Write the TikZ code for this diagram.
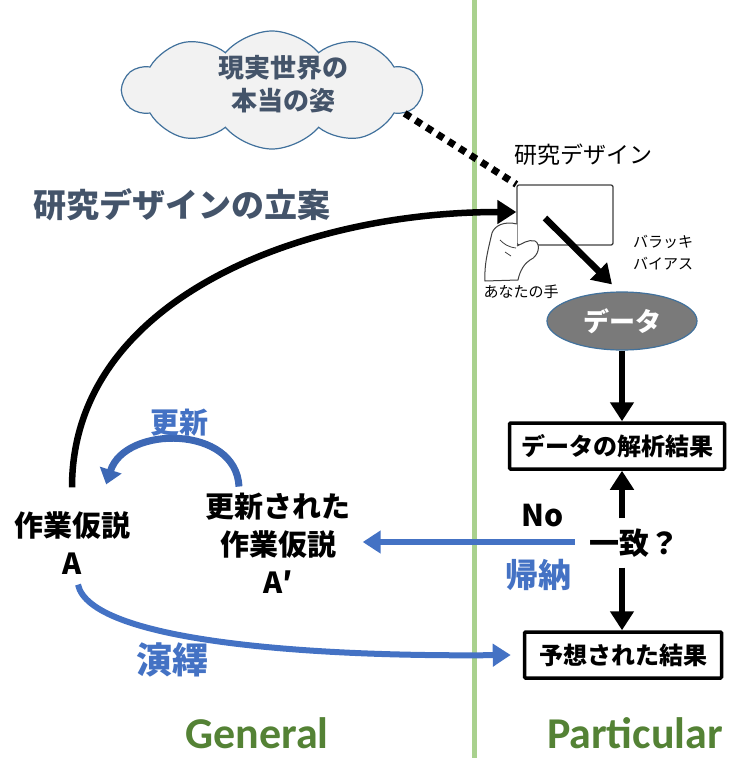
\documentclass[tikz,border=0pt]{standalone}
\usepackage{fontspec}
\setmainfont{Noto Sans CJK JP}
\newfontfamily\latinfont{Carlito}
\usetikzlibrary{arrows.meta}
\usetikzlibrary{shapes.geometric}
\usetikzlibrary{shapes.symbols}

\definecolor{slate}{HTML}{44546A}
\definecolor{hypblue}{HTML}{4472C4}
\definecolor{updblue}{HTML}{3D68B5}
\definecolor{sidegreen}{HTML}{A9D18E}
\definecolor{labelgreen}{HTML}{548235}
\definecolor{cloudfill}{HTML}{F2F2F2}
\definecolor{cloudedge}{HTML}{41719C}
\definecolor{datagray}{HTML}{7A7A7A}
\definecolor{cardedge}{HTML}{404040}

\newcommand\fsz[2]{\fontsize{#1pt}{#2pt}\selectfont}

\begin{document}
\begin{tikzpicture}[x=1pt,y=-1pt,
  every node/.style={inner sep=2pt},
  result/.style={draw, line width=3.5pt, fill=white, minimum height=46pt, rounded corners=1pt, font=\bfseries\fsz{24}{28}},
  flow/.style={line width=6.5pt, -{Triangle[length=19pt,width=23pt]}},
  blueflow/.style={draw=hypblue, line width=6pt, -{Triangle[length=18pt,width=22pt]}},
  bluelabel/.style={text=hypblue, font=\bfseries\fsz{33}{36}},
  hypo/.style={align=center, font=\bfseries\fsz{29}{38}}]
\useasboundingbox (0,0) rectangle (744,758);
\draw[sidegreen, line width=5pt] (474,0) -- (474,758);

\node[cloud, cloud puffs=10, cloud puff arc=100, aspect=2.6, draw=cloudedge, fill=cloudfill, line width=1.2pt, minimum width=298pt, minimum height=118pt] (world) at (272,90) {};
\node[align=center, text=slate, font=\bfseries\fsz{26}{33}] (worldtext) at (283,84) {現実世界の\\本当の姿};

\node[draw=cardedge, line width=1.3pt, fill=white, rounded corners=2pt, minimum width=96pt, minimum height=60pt] (card) at (565,215) {};
\node[font=\fsz{23}{26}] (design) at (583,155) {研究デザイン};
\draw[line width=7pt, dash pattern=on 7pt off 6pt] (world.-10) -- (card.north west);

% hand holding the card
\draw[cardedge, fill=white, line width=1pt] (517,224) .. controls (505,221) and (495,225) .. (492,233)
  .. controls (488,250) and (484,265) .. (485,281) -- (518,280)
  .. controls (520,270) and (525,263) .. (530,260)
  .. controls (539,256) and (541,244) .. (535,241)
  .. controls (528,239) and (522,244) .. (517,246);
\draw[cardedge, line width=0.8pt] (500,240) .. controls (504,244) and (508,247) .. (516,248) (505,252) -- (511,256);
\node[font=\fsz{15}{18}] (hand) at (521,292) {あなたの手};
\node[align=center, font=\fsz{15}{22}] (noise) at (663,253) {バラッキ\\バイアス};

\node[ellipse, draw=cloudedge, fill=datagray, line width=1.2pt, minimum width=150pt, minimum height=58pt, text=white, font=\bfseries\fsz{26}{30}] (data) at (622,321) {データ};
\draw[flow] ([xshift=-20pt,yshift=-3pt]card.center) -- ([xshift=-10pt,yshift=7pt]data.north);

\node[result, minimum width=215pt] (analysis) at (617,446) {データの解析結果};
\node[result, minimum width=197pt] (predicted) at (623,655) {予想された結果};
\node[font=\bfseries\fsz{30}{34}, inner xsep=4pt, inner ysep=10pt] (match) at (634,543) {一致？};
\node[font=\bfseries\fsz{30}{34}] (no) at (543,516) {No};
\node[bluelabel] (induction) at (538,575) {帰納};

\draw[flow] (data.south) -- (data.south |- analysis.north);
\draw[flow] (match.north -| data.south) -- (analysis.south -| data.south);
\draw[flow] (match.south -| data.south) -- (predicted.north -| data.south);

\node[hypo] (hyp) at (72,543) {作業仮説\\A};
\node[hypo] (newhyp) at (278,543) {更新された\\作業仮説\\A′};
\draw[blueflow] ([xshift=-10pt,yshift=1pt]match.west) -- ([xshift=10pt,yshift=1pt]newhyp.east);

\draw[updblue, line width=7pt, -{Triangle[length=15pt,width=22pt]}] ([xshift=-39pt,yshift=4pt]newhyp.north) .. controls (236,425) and (125,425) .. ([xshift=-26pt,yshift=25pt]hyp.north east);
\node[text=hypblue, font=\bfseries\fsz{29}{32}] (update) at (179,423) {更新};

\draw[flow] ([yshift=22pt]hyp.north) .. controls (72,300) and (300,212) .. ([yshift=3pt]card.west);
\draw[blueflow] ([xshift=6pt,yshift=-8pt]hyp.south) .. controls (90,640) and (300,657) .. ([xshift=-12pt]predicted.west);

\node[bluelabel, font=\bfseries\fsz{36}{40}] (deduction) at (172,660) {演繹};
\node[text=slate, font=\bfseries\fsz{33}{36}] (planning) at (182,205) {研究デザインの立案};
\node[text=labelgreen, font=\latinfont\bfseries\fsz{44}{48}] (general) at (257,733) {General};
\node[text=labelgreen, font=\latinfont\bfseries\fsz{44}{48}] (particular) at (635,733) {Particular};
\end{tikzpicture}
\end{document}
